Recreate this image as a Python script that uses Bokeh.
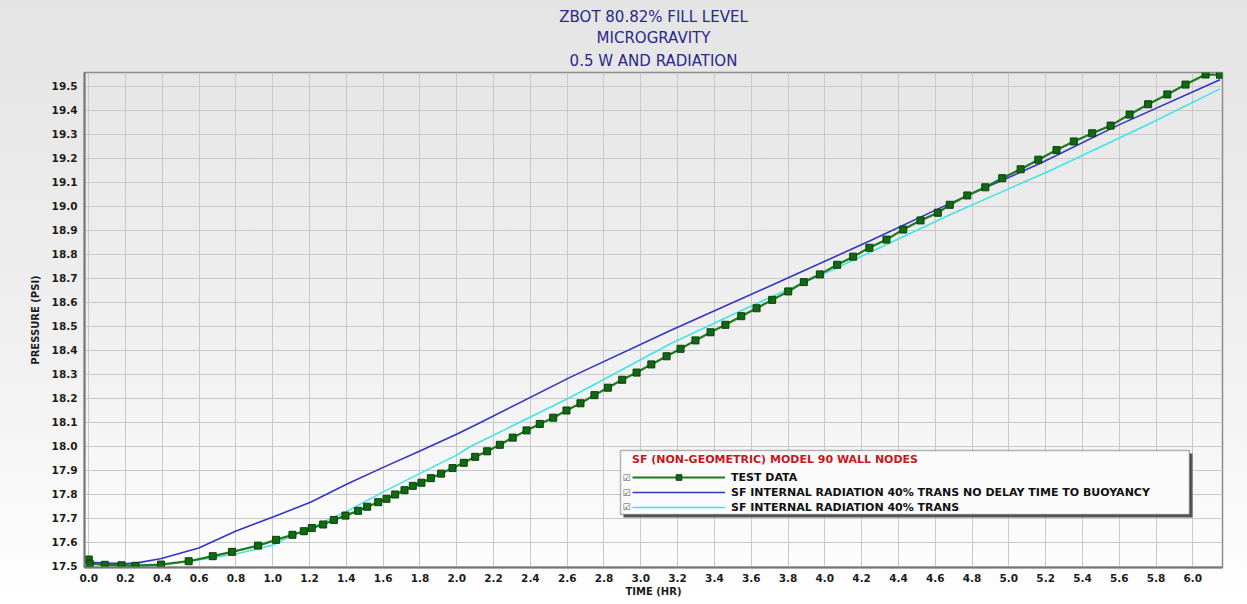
from bokeh.plotting import figure
from bokeh.models import (Range1d, FixedTicker, PrintfTickFormatter, Legend,
                          LegendItem, Label, BoxAnnotation, Title)
from bokeh.embed import file_html
from bokeh.resources import INLINE

# ---- data -------------------------------------------------------------
TIME_TEST = [0.0, 0.005, 0.087, 0.178, 0.254, 0.393, 0.543, 0.674, 0.779, 0.92,
             1.018, 1.107, 1.169, 1.212, 1.274, 1.332, 1.395, 1.464, 1.513, 1.573,
             1.618, 1.665, 1.716, 1.761, 1.808, 1.859, 1.915, 1.977, 2.038, 2.10,
             2.165, 2.234, 2.304, 2.379, 2.451, 2.524, 2.596, 2.672, 2.748, 2.821,
             2.899, 2.977, 3.057, 3.14, 3.216, 3.297, 3.379, 3.46, 3.546, 3.629,
             3.714, 3.801, 3.886, 3.973, 4.067, 4.154, 4.242, 4.335, 4.426, 4.52,
             4.614, 4.679, 4.774, 4.872, 4.964, 5.064, 5.16, 5.259, 5.353, 5.453,
             5.553, 5.656, 5.757, 5.861, 5.96, 6.069, 6.147]
PRESSURE_TEST = [17.527, 17.510, 17.505, 17.503, 17.501, 17.506, 17.520, 17.541, 17.559, 17.585,
                 17.609, 17.630, 17.645, 17.658, 17.673, 17.692, 17.710, 17.730, 17.747, 17.766,
                 17.780, 17.798, 17.816, 17.834, 17.847, 17.866, 17.885, 17.908, 17.930, 17.955,
                 17.978, 18.005, 18.035, 18.065, 18.092, 18.118, 18.148, 18.178, 18.212, 18.243,
                 18.276, 18.306, 18.340, 18.374, 18.405, 18.440, 18.474, 18.505, 18.541, 18.574,
                 18.609, 18.644, 18.683, 18.715, 18.755, 18.789, 18.826, 18.860, 18.902, 18.940,
                 18.972, 19.005, 19.044, 19.078, 19.116, 19.153, 19.193, 19.233, 19.269, 19.303,
                 19.335, 19.381, 19.424, 19.465, 19.506, 19.548, 19.547]

TIME_NO_DELAY = [0.0, 0.1, 0.2, 0.254, 0.39, 0.598, 0.797, 1.005, 1.205, 1.404,
                 1.603, 1.803, 2.002, 2.129, 2.618, 3.161, 3.705, 4.249, 4.683, 5.172,
                 5.589, 6.147]
PRESSURE_NO_DELAY = [17.515, 17.512, 17.510, 17.512, 17.530, 17.575, 17.645, 17.705, 17.766, 17.842,
                     17.912, 17.980, 18.050, 18.098, 18.287, 18.481, 18.668, 18.856, 19.012, 19.178,
                     19.335, 19.526]

TIME_RAD = [0.0, 0.2, 0.39, 0.598, 0.8, 1.005, 1.1, 1.205, 1.404, 1.603,
            1.803, 2.002, 2.074, 2.618, 3.161, 3.451, 3.705, 3.995, 4.249, 4.683,
            5.226, 5.77, 6.147]
PRESSURE_RAD = [17.515, 17.508, 17.505, 17.525, 17.550, 17.588, 17.625, 17.658, 17.728, 17.810,
                17.887, 17.963, 17.998, 18.203, 18.426, 18.530, 18.620, 18.718, 18.808, 18.965,
                19.148, 19.345, 19.488]

X_TICK_LABELS = ["0.0", "0.2", "0.4", "0.6", "0.8", "1.0", "1.2", "1.4", "1.6", "1.8",
                 "2.0", "2.2", "2.4", "2.6", "2.8", "3.0", "3.2", "3.4", "3.6", "3.8",
                 "4.0", "4.2", "4.4", "4.6", "4.8", "5.0", "5.2", "5.4", "5.6", "5.8", "6.0"]
Y_TICK_LABELS = ["17.5", "17.6", "17.7", "17.8", "17.9", "18.0", "18.1", "18.2", "18.3", "18.4",
                 "18.5", "18.6", "18.7", "18.8", "18.9", "19.0", "19.1", "19.2", "19.3", "19.4",
                 "19.5"]

TITLE_LINES = ["ZBOT 80.82% FILL LEVEL", "MICROGRAVITY", "0.5 W AND RADIATION"]
LEGEND_TITLE = "SF (NON-GEOMETRIC) MODEL 90 WALL NODES"
SERIES_NAMES = ["TEST DATA",
                "SF INTERNAL RADIATION 40% TRANS NO DELAY TIME TO BUOYANCY",
                "SF INTERNAL RADIATION 40% TRANS"]

# ---- layout -----------------------------------------------------------
W, H = 1247, 604
FL, FR, FT, FB = 84, 1222, 72, 567          # frame edges in pixels
X0, X1 = -0.023, 6.161
Y0, Y1 = 17.4938, 19.5563


def sx2x(px):
    return X0 + (px - FL) / (FR - FL) * (X1 - X0)


def sy2y(py):
    return Y0 + (FB - py) / (FB - FT) * (Y1 - Y0)


FONT = "DejaVu Sans"

p = figure(width=W, height=H, output_backend="svg", toolbar_location=None,
           x_range=Range1d(X0, X1), y_range=Range1d(Y0, Y1),
           min_border_left=FL, min_border_right=W - FR,
           min_border_top=FT, min_border_bottom=H - FB)
p.styles = {"background": "linear-gradient(180deg, #e4e4e4 0%, #f1f1f1 60%, #ffffff 100%)"}
p.border_fill_color = None
p.background_fill_color = None
p.outline_line_color = "#8c8c8c"
p.outline_line_width = 1.5

p.xgrid.grid_line_color = "#c9c9c9"
p.ygrid.grid_line_color = "#c9c9c9"
p.xgrid.grid_line_width = 1
p.ygrid.grid_line_width = 1

p.xaxis.ticker = FixedTicker(ticks=[float(s) for s in X_TICK_LABELS])
p.yaxis.ticker = FixedTicker(ticks=[float(s) for s in Y_TICK_LABELS])
for ax in (p.xaxis, p.yaxis):
    ax.formatter = PrintfTickFormatter(format="%.1f")
    ax.axis_line_color = "#767676"
    ax.axis_line_width = 2
    ax.major_tick_out = 0
    ax.major_tick_in = 0
    ax.minor_tick_out = 0
    ax.minor_tick_in = 0
    ax.major_label_text_font = FONT
    ax.major_label_text_font_style = "bold"
    ax.major_label_text_font_size = "10.5px"
    ax.major_label_text_color = "#1c1c1c"
    ax.axis_label_text_font = FONT
    ax.axis_label_text_font_style = "bold"
    ax.axis_label_text_font_size = "10px"
    ax.axis_label_text_color = "#1c1c1c"
p.xaxis.major_label_standoff = 6
p.yaxis.major_label_standoff = 7
p.xaxis.axis_label = "TIME (HR)"
p.yaxis.axis_label = "PRESSURE (PSI)"
p.xaxis.axis_label_standoff = 1
p.yaxis.axis_label_standoff = 8

# ---- series -----------------------------------------------------------
r_rad = p.line(TIME_RAD, PRESSURE_RAD, line_color="#45e3e3", line_width=1.6)
r_nd = p.line(TIME_NO_DELAY, PRESSURE_NO_DELAY, line_color="#3434c6", line_width=1.6)
r_test = p.line(TIME_TEST, PRESSURE_TEST, line_color="#1f7a1f", line_width=2.2)
r_pts = p.scatter(TIME_TEST, PRESSURE_TEST, marker="square", size=7,
                  fill_color="#0f6a12", line_color="#0a3f0a", line_width=1)

# ---- title: one Title per line, each centred; the last added sits highest
for i, txt in enumerate(reversed(TITLE_LINES)):
    p.add_layout(Title(text=txt, align="center", offset=39,
                       text_font=FONT, text_font_size="15px", text_font_style="normal",
                       text_color="#29298a", text_line_height=1.0,
                       standoff=5 if i == 0 else 1, vertical_align="bottom"), "above")

# ---- legend -----------------------------------------------------------
LEG_L, LEG_R, LEG_T, LEG_B = 620, 1189, 450, 514
p.add_layout(BoxAnnotation(left=sx2x(LEG_L + 3), right=sx2x(LEG_R + 3),
                           top=sy2y(LEG_T + 3), bottom=sy2y(LEG_B + 3),
                           fill_color="#3a3a3a", fill_alpha=0.85, line_alpha=0))
p.add_layout(BoxAnnotation(left=sx2x(LEG_L), right=sx2x(LEG_R),
                           top=sy2y(LEG_T), bottom=sy2y(LEG_B),
                           fill_color="#fbfbfb", fill_alpha=1.0,
                           line_color="#111111", line_width=1.5))

legend = Legend(items=[LegendItem(label=SERIES_NAMES[0], renderers=[r_test, r_pts]),
                       LegendItem(label=SERIES_NAMES[1], renderers=[r_nd]),
                       LegendItem(label=SERIES_NAMES[2], renderers=[r_rad])],
                title=LEGEND_TITLE, location=(548, 53),
                padding=0, margin=0, spacing=1,
                glyph_width=93, glyph_height=14, label_height=14, label_standoff=6,
                border_line_alpha=0, background_fill_alpha=0,
                title_text_font=FONT, title_text_font_style="bold",
                title_text_font_size="11px", title_text_color="#c8161d", title_standoff=4,
                label_text_font=FONT, label_text_font_style="bold",
                label_text_font_size="11px", label_text_color="#111111")
p.add_layout(legend, "center")

for row_y in (477, 492, 506):
    p.add_layout(Label(x=sx2x(626), y=sy2y(row_y), text="\u2611",
                       text_align="center", text_baseline="middle",
                       text_font=FONT, text_font_size="9px", text_color="#555555"))

open("out.html", "w").write(file_html(p, INLINE))
